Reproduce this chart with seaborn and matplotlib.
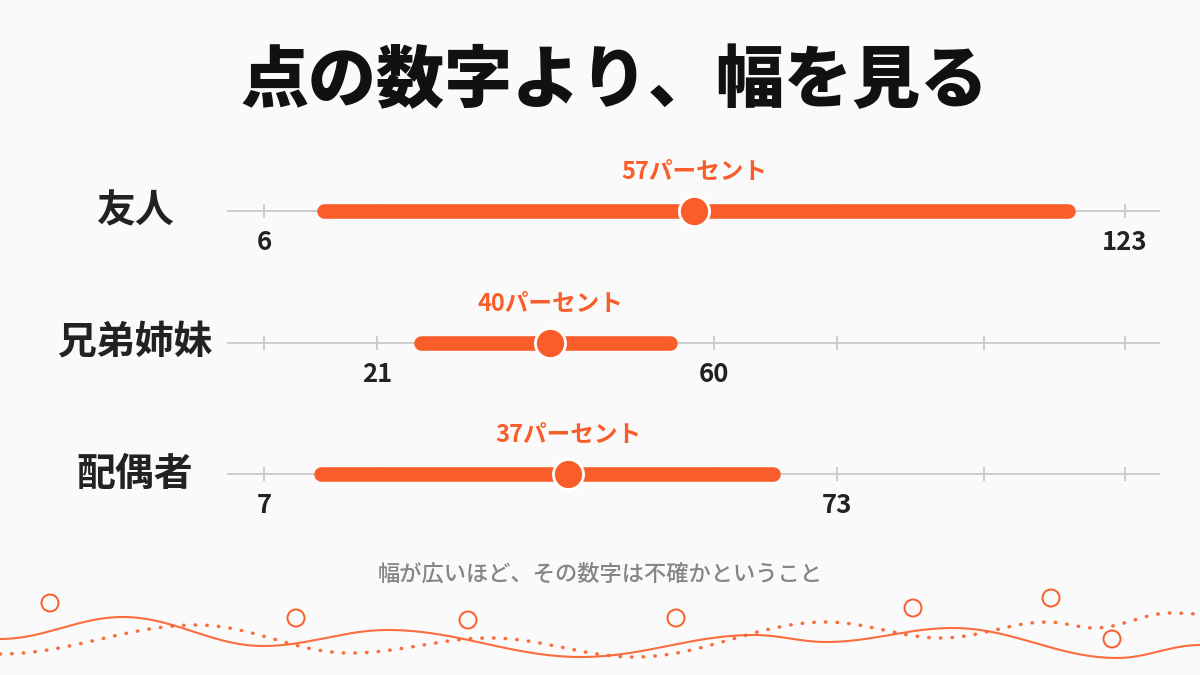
import numpy as np
import pandas as pd
import matplotlib.pyplot as plt
import seaborn as sns

# ---------- DATA ----------
groups = ["友人", "兄弟姉妹", "配偶者"]
point_labels = ["57パーセント", "40パーセント", "37パーセント"]
# positions on the drawn scale
low_pos = [14.2, 27.4, 13.7]
point_pos = [64.5, 44.9, 47.3]
high_pos = [115.3, 61.2, 75.2]
tick_pos = [6, 21.4, 67.1, 83.8, 103.8, 123]
low_text = ["6", "21", "7"]
high_text = ["123", "60", "73"]
low_tick = [0, 1, 0]
high_tick = [5, 2, 3]

# decoration (wave extrema, little circles) in pixel coords
wave_x = [0, 123, 263, 388, 581, 754, 826, 953, 1117, 1200]
wave_y = [639, 617, 646, 630, 657, 635, 642, 628, 658, 645]
dots_x = [0, 197, 350, 490, 635, 826, 941, 1048, 1094, 1171, 1200]
dots_y = [654, 625, 653, 638, 657, 622, 638, 622, 628, 613, 614]
ring_x = [50, 296, 468, 676, 913, 1051, 1112]
ring_y = [603, 618, 620, 618, 608, 598, 639]

ORANGE = "#F95E2A"
DARK = "#222222"
GREY_LINE = "#c9c9c9"
BG = "#fafafa"

sns.set_theme(style="white")
plt.rcParams["font.family"] = ["Noto Sans CJK JP", "DejaVu Sans"]

fig = plt.figure(figsize=(12, 6.75), dpi=100)
fig.patch.set_facecolor(BG)

# ---------- DECORATION LAYER ----------
deco = fig.add_axes([0, 0, 1, 1])
deco.set_xlim(0, 1200)
deco.set_ylim(675, 0)
deco.axis("off")
deco.patch.set_alpha(0)


def smooth(xs, ys, n=60):
    # cosine easing between extrema -> wavy decoration
    out_x, out_y = [], []
    for i in range(len(xs) - 1):
        t = np.linspace(0, 1, n)
        e = (1 - np.cos(np.pi * t)) / 2
        out_x.extend(xs[i] + (xs[i + 1] - xs[i]) * t)
        out_y.extend(ys[i] + (ys[i + 1] - ys[i]) * e)
    return np.array(out_x), np.array(out_y)


sx, sy = smooth(wave_x, wave_y)
deco.plot(sx, sy, color=ORANGE, lw=1.5, alpha=0.9)
dx, dy = smooth(dots_x, dots_y)
deco.plot(dx, dy, color=ORANGE, lw=2.5, ls=(0, (0.15, 3.2)),
          dash_capstyle="round", alpha=0.9)
deco.scatter(ring_x, ring_y, s=150, facecolor="none",
             edgecolor=ORANGE, linewidth=1.4)

# ---------- MAIN CHART ----------
ax = fig.add_axes([0, 0, 1, 1])
ax.patch.set_alpha(0)
px_per_unit = (1125 - 264) / (123 - 6)
ax.set_xlim(6 - 264 / px_per_unit, 6 + (1200 - 264) / px_per_unit)
row_px = 131.5
ax.set_ylim(2 + (675 - 474) / row_px, -211 / row_px)
ax.axis("off")

rows = list(range(len(groups)))
ax_lo = 6 + (227 - 264) / px_per_unit
ax_hi = 6 + (1160 - 264) / px_per_unit
tick_h = 7 / row_px

for r in rows:
    ax.hlines(r, ax_lo, ax_hi, color=GREY_LINE, lw=1.3, zorder=1)
    ax.vlines(tick_pos, r - tick_h, r + tick_h, color=GREY_LINE, lw=1.3, zorder=1)

bars = pd.DataFrame({
    "pos": low_pos + high_pos,
    "row": rows + rows,
    "grp": groups + groups,
})
sns.lineplot(data=bars, x="pos", y="row", units="grp", estimator=None,
             sort=False, color=ORANGE, lw=10.5, solid_capstyle="round",
             legend=False, ax=ax, zorder=3)
ax.axis("off")

sns.scatterplot(x=point_pos, y=rows, s=470, color=ORANGE, edgecolor="white",
                linewidth=2, zorder=5, ax=ax, legend=False)

for r in rows:
    ax.annotate(point_labels[r], (point_pos[r], r), xytext=(0, 28),
                textcoords="offset points", ha="center", va="center",
                color=ORANGE, fontsize=17, fontweight="bold")
    for idx, txt in ((low_tick[r], low_text[r]), (high_tick[r], high_text[r])):
        ax.annotate(txt, (tick_pos[idx], r), xytext=(0, -23),
                    textcoords="offset points", ha="center", va="center",
                    color=DARK, fontsize=18.5, fontweight="bold")
    ax.text(135 / 1200, 1 - (211 + r * row_px) / 675, groups[r],
            transform=fig.transFigure, ha="center", va="center",
            color=DARK, fontsize=28, fontweight="bold")

# ---------- TEXT ----------
fig.text(0.5125, 1 - 82 / 675, "点の数字より、幅を見る", ha="center", va="center",
         color="#111111", fontsize=49, fontweight="black")
fig.text(0.5, 1 - 574 / 675, "幅が広いほど、その数字は不確かということ",
         ha="center", va="center", color="#858585", fontsize=16,
         fontweight="medium")

fig.savefig("out.png", dpi=100, facecolor=BG)
